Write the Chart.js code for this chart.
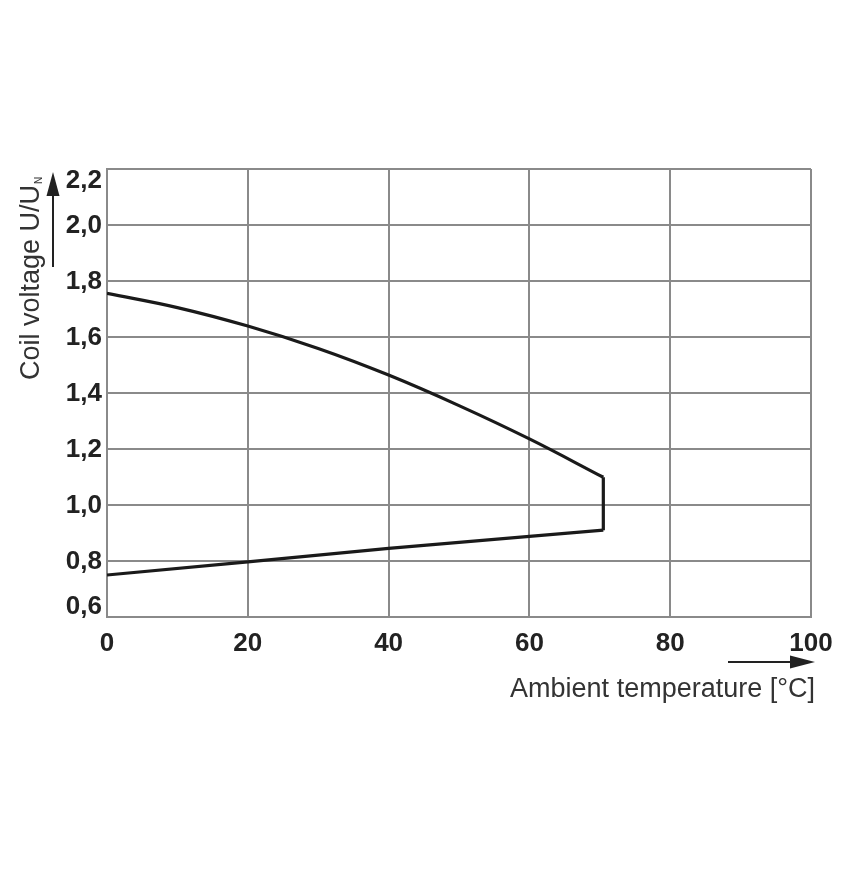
<!DOCTYPE html>
<html>
<head>
<meta charset="utf-8">
<script src="https://cdn.jsdelivr.net/npm/chart.js@4"></script>
<style>
html,body{margin:0;padding:0;background:#fff;}
#wrap{width:851px;height:873px;}
</style>
</head>
<body>
<div id="wrap"><canvas id="c" width="851" height="873"></canvas></div>
<script>
// Data
const tempUpper = [0, 10, 20, 30, 40, 50, 60, 70.5];
const voltUpper = [1.756, 1.705, 1.639, 1.559, 1.464, 1.355, 1.236, 1.099];
const tempLower = [0, 20, 40, 60, 70.5];
const voltLower = [0.75, 0.797, 0.845, 0.888, 0.91];
const xTicks = [0, 20, 40, 60, 80, 100];
const yTicks = [0.6, 0.8, 1.0, 1.2, 1.4, 1.6, 1.8, 2.0, 2.2];
const xTitle = "Ambient temperature [°C]";
const yTitleMain = "Coil voltage U/U";
const yTitleSub = "N";

const upperPts = tempUpper.map((t, i) => ({x: t, y: voltUpper[i]}));
const lowerPts = tempLower.map((t, i) => ({x: t, y: voltLower[i]}));
const edgePts = [upperPts[upperPts.length - 1], lowerPts[lowerPts.length - 1]];

const FONT = "'Liberation Sans', Arial, sans-serif";
const GRID = '#8a8a8a';
const TICKFONT = "bold 26px " + FONT;

const decorations = {
  id: 'decorations',
  afterDraw(chart) {
    const ctx = chart.ctx;
    const a = chart.chartArea;
    const ys = chart.scales.y;
    ctx.save();
    // Y tick labels, kept inside the plot's vertical extent
    ctx.fillStyle = '#222';
    ctx.font = TICKFONT;
    ctx.textAlign = 'right';
    ctx.textBaseline = 'middle';
    const half = 11;
    yTicks.forEach(v => {
      let py = ys.getPixelForValue(v);
      py = Math.min(Math.max(py, a.top + half), a.bottom - half);
      ctx.fillText(v.toFixed(1).replace('.', ','), a.left - 5, py + 1);
    });
    // X axis title
    ctx.fillStyle = '#333';
    ctx.font = "27px " + FONT;
    ctx.textAlign = 'right';
    ctx.textBaseline = 'alphabetic';
    ctx.fillText(xTitle, a.right + 4, 697);
    // X arrow
    ctx.strokeStyle = '#222';
    ctx.fillStyle = '#222';
    ctx.lineWidth = 2;
    ctx.beginPath();
    ctx.moveTo(728, 662);
    ctx.lineTo(792, 662);
    ctx.stroke();
    ctx.beginPath();
    ctx.moveTo(815, 662);
    ctx.lineTo(790, 655.5);
    ctx.lineTo(790, 668.5);
    ctx.closePath();
    ctx.fill();
    // Y title (rotated)
    ctx.translate(39, 380);
    ctx.rotate(-Math.PI / 2);
    ctx.fillStyle = '#333';
    ctx.font = "27px " + FONT;
    ctx.textAlign = 'left';
    ctx.fillText(yTitleMain, 0, 0);
    const w = ctx.measureText(yTitleMain).width;
    ctx.font = "10px " + FONT;
    ctx.fillText(yTitleSub, w + 1, 3);
    ctx.restore();
    // Y arrow
    ctx.save();
    ctx.strokeStyle = '#222';
    ctx.fillStyle = '#222';
    ctx.lineWidth = 2;
    ctx.beginPath();
    ctx.moveTo(53, 267);
    ctx.lineTo(53, 193);
    ctx.stroke();
    ctx.beginPath();
    ctx.moveTo(53, 172);
    ctx.lineTo(46.5, 196);
    ctx.lineTo(59.5, 196);
    ctx.closePath();
    ctx.fill();
    ctx.restore();
  }
};

const lineStyle = {
  borderColor: '#1a1a1a',
  borderWidth: 3.2,
  pointRadius: 0,
  showLine: true,
  fill: false
};

new Chart(document.getElementById('c'), {
  type: 'scatter',
  data: {
    datasets: [
      Object.assign({data: upperPts, tension: 0.4}, lineStyle),
      Object.assign({data: edgePts}, lineStyle),
      Object.assign({data: lowerPts}, lineStyle)
    ]
  },
  options: {
    responsive: false,
    devicePixelRatio: 1,
    animation: false,
    layout: {padding: {left: 0, right: 40, top: 169, bottom: 216}},
    plugins: {legend: {display: false}, tooltip: {enabled: false}},
    scales: {
      x: {
        type: 'linear', min: 0, max: 100,
        afterBuildTicks: s => { s.ticks = xTicks.map(v => ({value: v})); },
        afterFit: s => { s.height = 40; },
        grid: {color: GRID, lineWidth: 2, drawTicks: false},
        border: {color: GRID, width: 2},
        ticks: {
          padding: 11, color: '#222', maxRotation: 0,
          font: {family: FONT, size: 26, weight: 'bold'},
          callback: v => String(v)
        }
      },
      y: {
        type: 'linear', min: 0.6, max: 2.2,
        afterBuildTicks: s => { s.ticks = yTicks.map(v => ({value: v})); },
        afterFit: s => { s.width = 107; },
        grid: {color: GRID, lineWidth: 2, drawTicks: false},
        border: {color: GRID, width: 2},
        ticks: {display: false}
      }
    }
  },
  plugins: [decorations]
});
</script>
</body>
</html>
